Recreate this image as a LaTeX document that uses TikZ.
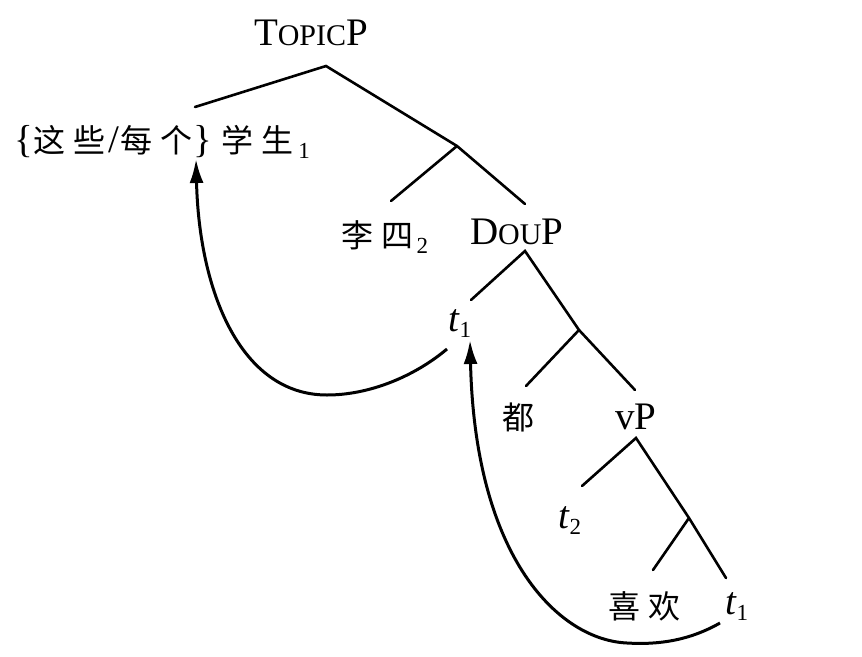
\documentclass[tikz,border=0pt]{standalone}
\usepackage{fontspec}
\setmainfont{Liberation Serif}
\newfontfamily\cjk{Noto Sans CJK SC}
\usetikzlibrary{arrows.meta}
\newcommand\lat{\fontsize{39}{42}\selectfont}
\newcommand\scx[1]{{\fontsize{30}{30}\selectfont #1}}
\newcommand\subn[1]{\raisebox{-6pt}{\fontsize{23}{23}\selectfont #1}}
\newcommand\zh[1]{{\cjk\fontsize{32}{32}\selectfont #1}}
\newcommand\ck{\kern8pt}
\begin{document}
\begin{tikzpicture}[x=1pt,y=-1pt,
  every node/.style={inner sep=0pt, outer sep=0pt, font=\lat},
  branch/.style={line width=2.6pt, line cap=round},
  move/.style={line width=3pt, -{Latex[length=24pt,width=14pt]}}]
\useasboundingbox (0,0) rectangle (862,656);
% nodes
\node[anchor=base west] (topic) at (254,45) {T\scx{OPIC}P};
\node[anchor=base west] (stud) at (14,152) {\{\kern0.8pt\zh{这\ck 些}\kern2.5pt/\kern1.7pt\zh{每\ck 个}\kern0.5pt\}\kern10pt\zh{学\ck 生}\kern4.5pt\subn{1}};
\node[anchor=base west] (lisi) at (341.5,247) {\zh{李\ck 四}\kern3pt\subn{2}};
\node[anchor=base west] (doup) at (470,244) {D\scx{OU}P};
\node[anchor=base west] (ta) at (448,331) {\textit{t}\subn{1}};
\node[anchor=base] (dou) at (518.5,429) {\zh{都}};
\node[anchor=base west] (vp) at (615,429) {vP};
\node[anchor=base west] (tb) at (558,528) {\textit{t}\subn{2}};
\node[anchor=base west] (xh) at (608.5,618) {\zh{喜\ck 欢}};
\node[anchor=base west] (tc) at (725,614) {\textit{t}\subn{1}};
% branch points
\coordinate (aT) at (326,66);
\coordinate (e1) at (195,107);
\coordinate (b1) at (457,146);
\coordinate (e2) at (391,201);
\coordinate (e3) at (525,204);
\coordinate (aD) at (525,251);
\coordinate (e4) at (471,300);
\coordinate (b2) at (579,330);
\coordinate (e5) at (526,386);
\coordinate (e6) at (635,390);
\coordinate (aV) at (636,438);
\coordinate (e7) at (582,486);
\coordinate (b3) at (689,518);
\coordinate (e8) at (653,570);
\coordinate (e9) at (726,578);
\draw[branch] (e1) -- (aT) -- (b1) -- (e3);
\draw[branch] (b1) -- (e2);
\draw[branch] (e4) -- (aD) -- (b2) -- (e6);
\draw[branch] (b2) -- (e5);
\draw[branch] (e7) -- (aV) -- (b3) -- (e9);
\draw[branch] (b3) -- (e8);
% movement arrows
\coordinate (s1) at (447,349);
\coordinate (h1) at (196,159);
\coordinate (s2) at (720,623);
\coordinate (h2) at (470,340);
\draw[move] (s1) .. controls (415,376) and (370,395) .. (327,395)
  .. controls (240,395) and (199,290) .. (h1);
\draw[move] (s2) .. controls (690,640) and (660,645) .. (627,643)
  .. controls (560,640) and (475,560) .. (h2);
\end{tikzpicture}
\end{document}
